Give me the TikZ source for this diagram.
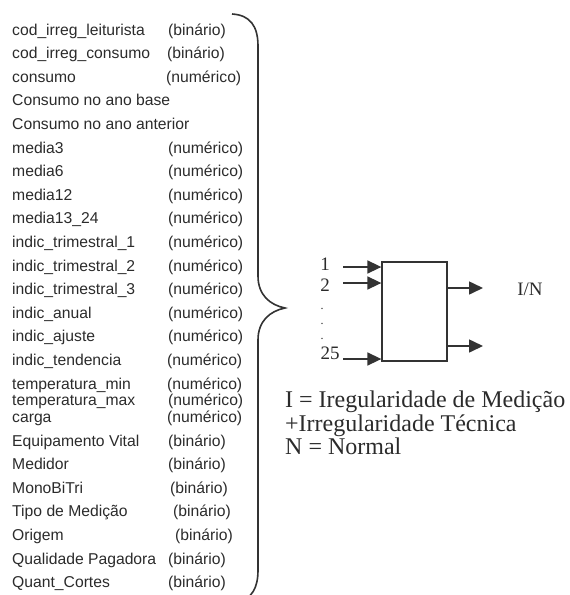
\documentclass[tikz,border=0pt]{standalone}
\usepackage{fontspec}
\setmainfont{Liberation Serif}
\setsansfont{Liberation Sans}
\usetikzlibrary{arrows.meta}
\definecolor{ink}{HTML}{2B2B2B}
\definecolor{lineink}{HTML}{333333}
\tikzset{
  lbl/.style={font=\sffamily\fontsize{15.7}{18}\selectfont, text=ink, inner sep=0pt, anchor=base west},
  num/.style={font=\rmfamily\fontsize{19}{22}\selectfont, text=ink, inner sep=0pt},
  dotlbl/.style={font=\rmfamily\fontsize{12}{14}\selectfont, text=ink, inner sep=0pt, anchor=base},
  legend/.style={font=\rmfamily\fontsize{24}{27}\selectfont, text=ink, inner sep=0pt, anchor=base west},
  blockbox/.style={draw=lineink, line width=1.3pt, minimum width=65pt, minimum height=99pt, inner sep=0pt},
  conn/.style={draw=lineink, line width=1.6pt, -{Triangle[length=14pt,width=13pt]}},
  bracestyle/.style={draw=lineink, line width=1.6pt}
}
\begin{document}
\begin{tikzpicture}[x=1pt,y=-1pt]
\useasboundingbox (0,0) rectangle (570,595);
% left list: name, centre line
\foreach \i/\yy/\nm in {
 1/29.5/cod\_irreg\_leiturista,
 2/53.1/cod\_irreg\_consumo,
 3/76.7/consumo,
 4/100.3/Consumo no ano base,
 5/123.9/Consumo no ano anterior,
 6/147.5/media3,
 7/171.1/media6,
 8/194.7/media12,
 9/218.3/media13\_24,
 10/241.9/indic\_trimestral\_1,
 11/265.5/indic\_trimestral\_2,
 12/289.1/indic\_trimestral\_3,
 13/312.7/indic\_anual,
 14/336.3/indic\_ajuste,
 15/359.9/indic\_tendencia,
 16/383.5/temperatura\_min,
 17/400.0/temperatura\_max,
 18/416.5/carga,
 19/440.5/Equipamento Vital,
 20/464.1/Medidor,
 21/487.7/MonoBiTri,
 22/511.3/Tipo de Medição,
 23/534.9/Origem,
 24/558.5/Qualidade Pagadora,
 25/582.1/Quant\_Cortes}
 {\node[lbl] (r\i) at (12,\yy+5.5) {\nm};}
% type column
\foreach \i/\xx/\yy/\tp in {
 1/168/29.5/(binário),
 2/167/53.1/(binário),
 3/166/76.7/(numérico),
 6/168/147.5/(numérico),
 7/168/171.1/(numérico),
 8/168/194.7/(numérico),
 9/168/218.3/(numérico),
 10/168/241.9/(numérico),
 11/168/265.5/(numérico),
 12/168/289.1/(numérico),
 13/168/312.7/(numérico),
 14/168/336.3/(numérico),
 15/167/359.9/(numérico),
 16/167/383.5/(numérico),
 17/168/400.0/(numérico),
 18/167/416.5/(numérico),
 19/168/440.5/(binário),
 20/168/464.1/(binário),
 21/170/487.7/(binário),
 22/173/511.3/(binário),
 23/175/534.9/(binário),
 24/168/558.5/(binário),
 25/168/582.1/(binário)}
 {\node[lbl] (t\i) at (\xx,\yy+5.5) {\tp};}
% brace
\draw[bracestyle] (232,14) .. controls (250,15) and (258,26) .. (258,46)
  -- (258,276) .. controls (258,295) and (270,305) .. (285,308)
  .. controls (270,311) and (258,321) .. (258,340)
  -- (258,570) .. controls (258,588) and (252,598) .. (238,603);
% block
\node[blockbox] (blk) at (414.5,311.5) {};
\coordinate (i1) at (343,267);
\coordinate (i2) at (343,283);
\coordinate (i25) at (343,359);
\coordinate (o1) at (483,288);
\coordinate (o2) at (483,346);
\draw[conn] (i1) -- (i1 -| blk.west);
\draw[conn] (i2) -- (i2 -| blk.west);
\draw[conn] (i25) -- (i25 -| blk.west);
\draw[conn] (o1 -| blk.east) -- (o1);
\draw[conn] (o2 -| blk.east) -- (o2);
\node[num] (l1) at (325,264) {1};
\node[num] (l2) at (325,285) {2};
\node[dotlbl] (d1) at (322,309) {.};
\node[dotlbl] (d2) at (322,324) {.};
\node[dotlbl] (d3) at (322,339) {.};
\node[num] (l25) at (330,353) {25};
\node[num] (in) at (530,289) {I/N};
% legend
\node[legend] (g1) at (285,407) {I = Iregularidade de Medição};
\node[legend] (g2) at (285,431) {+Irregularidade Técnica};
\node[legend] (g3) at (285,454) {N = Normal};
\end{tikzpicture}
\end{document}
